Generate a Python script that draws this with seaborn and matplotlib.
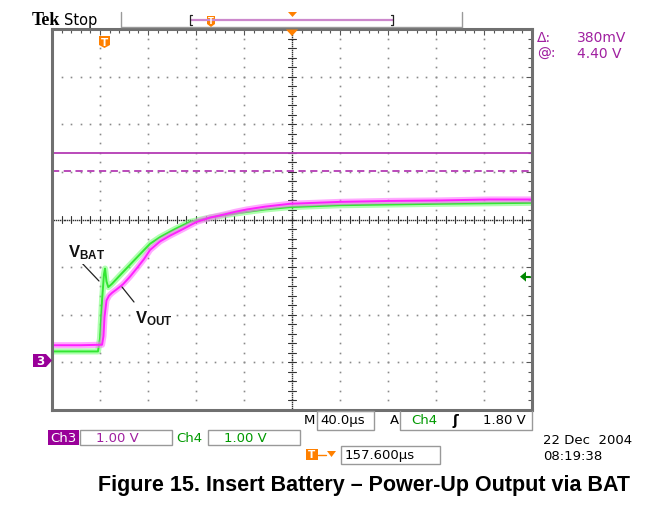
import numpy as np
import pandas as pd
import matplotlib
matplotlib.use("Agg")
import matplotlib.pyplot as plt
import seaborn as sns
from matplotlib.patches import Polygon, Rectangle

# ---------------- data (time in µs from left edge, volts from ground) -------------
t_vout = [0, 23.3, 41.7, 42.9, 43.75, 45.4, 47.5, 50, 54.2, 59.2, 65, 70.8, 76.7,
          81.7, 90, 98.3, 109.2, 120.6, 131.7, 142.5, 152.5, 162.2, 177.5, 198.3,
          240, 281.7, 323.3, 365, 399]
v_vout = [0.36, 0.36, 0.37, 0.55, 0.95, 1.30, 1.40, 1.46, 1.54, 1.64, 1.80, 1.98, 2.17,
          2.36, 2.54, 2.66, 2.80, 2.95, 3.04, 3.10, 3.16, 3.21, 3.27, 3.33,
          3.37, 3.39, 3.40, 3.42, 3.42]
t_vbat = [0, 20, 38.3, 40, 41.7, 43.3, 44.2, 45.4, 46.9, 50, 56.7, 65, 73.3, 81.7,
          90, 102.5, 115, 131.7, 156.7, 177.5, 198.3, 240, 323.3, 399]
v_vbat = [0.23, 0.23, 0.23, 0.5, 1.3, 1.85, 1.97, 1.70, 1.58, 1.65, 1.83, 2.05, 2.27, 2.49,
          2.63, 2.80, 2.95, 3.04, 3.14, 3.21, 3.26, 3.30, 3.33, 3.35]
cursor_solid = 4.40
cursor_dash = 4.02
trig_level = 1.80
time_per_div = 40.0
volt_per_div = 1.0

df_out = pd.DataFrame({"t": t_vout, "v": v_vout})
df_bat = pd.DataFrame({"t": t_vbat, "v": v_vbat})

sns.set_style("white")
plt.rcParams["font.family"] = ["DejaVu Sans"]
plt.rcParams["text.color"] = "black"
plt.rcParams["mathtext.fontset"] = "custom"
plt.rcParams["mathtext.rm"] = "Liberation Sans"
plt.rcParams["mathtext.bf"] = "Liberation Sans:bold"

W, H = 671, 510
fig = plt.figure(figsize=(W / 100, H / 100), dpi=100)
fig.patch.set_facecolor("white")

L, R, T, B = 52, 532, 30, 411
ax = fig.add_axes([L / W, 1 - B / H, (R - L) / W, (B - T) / H])
xmin, xmax = 0, 10 * time_per_div
ymin, ymax = -1, 7
ax.set_xlim(xmin, xmax)
ax.set_ylim(ymin, ymax)
ax.set_xticks(np.arange(xmin, xmax + 1, time_per_div))
ax.set_yticks(np.arange(ymin, ymax + 0.01, volt_per_div))
ax.set_xticks(np.arange(xmin, xmax + 1, time_per_div / 5), minor=True)
ax.set_yticks(np.arange(ymin, ymax + 0.01, volt_per_div / 5), minor=True)
ax.tick_params(which="both", direction="in", top=True, right=True,
               labelbottom=False, labelleft=False, color="#555555", width=0.8)
ax.tick_params(which="major", length=4)
ax.tick_params(which="minor", length=3)
for s in ax.spines.values():
    s.set_color("#707070")
    s.set_linewidth(2.2)

gc = "#8a8a8a"
# dotted grid
for gx in np.arange(time_per_div, xmax, time_per_div):
    if gx == 200:
        continue
    yy = np.arange(ymin, ymax + 0.01, volt_per_div / 5)
    ax.plot(np.full_like(yy, gx), yy, ls="none", marker="s", ms=1.2, color=gc, mew=0)
for gy in np.arange(ymin + 1, ymax, volt_per_div):
    if gy == 3:
        continue
    xx = np.arange(xmin, xmax + 0.1, time_per_div / 5)
    ax.plot(xx, np.full_like(xx, gy), ls="none", marker="s", ms=1.2, color=gc, mew=0)
# centre crosshair
yy = np.arange(ymin, ymax + 0.001, 0.04)
ax.plot(np.full_like(yy, 200), yy, ls="none", marker="s", ms=1.0, color="#333333", mew=0)
xx = np.arange(xmin, xmax + 0.01, 1.6)
ax.plot(xx, np.full_like(xx, 3), ls="none", marker="s", ms=1.0, color="#333333", mew=0)
for vy in np.arange(ymin, ymax + 0.01, 0.2):
    ax.plot([196.7, 203.3], [vy, vy], color="#333333", lw=0.8)
for tx in np.arange(xmin, xmax + 0.1, 8):
    ax.plot([tx, tx], [2.92, 3.08], color="#333333", lw=0.8)

# cursors
ax.axhline(cursor_solid, color="#B43CB4", lw=1.3)
ax.axhline(cursor_dash, color="#B43CB4", lw=1.3, ls=(0, (4, 2.5)))

# traces
kw = dict(ax=ax, sort=False, estimator=None, solid_joinstyle="round", solid_capstyle="round")
sns.lineplot(data=df_bat, x="t", y="v", color="#70FF70", lw=4.4, alpha=0.55, **kw)
sns.lineplot(data=df_bat, x="t", y="v", color="#33E633", lw=1.4, **kw)
sns.lineplot(data=df_out, x="t", y="v", color="#FF70FF", lw=4.4, alpha=0.6, **kw)
sns.lineplot(data=df_out, x="t", y="v", color="#FF20FF", lw=1.4, **kw)
ax.set_xlabel("")
ax.set_ylabel("")

# annotation labels
def px2data(x, y):
    return (x - L) / (R - L) * (xmax - xmin) + xmin, ymax - (y - T) / (B - T) * (ymax - ymin)

ax.plot(*zip(px2data(80, 262), px2data(99, 282)), color="#222222", lw=0.9)
ax.plot(*zip(px2data(122, 288), px2data(134, 303)), color="#222222", lw=0.9)
bx, by = px2data(68, 253)
ax.text(bx, by, r"$\mathbf{V_{BAT}}$", fontsize=12, ha="left", va="center", color="#111111",
        bbox=dict(boxstyle="square,pad=0.15", fc="white", ec="none"))
ox, oy = px2data(135, 319)
ax.text(ox, oy, r"$\mathbf{V_{OUT}}$", fontsize=12, ha="left", va="center", color="#111111",
        bbox=dict(boxstyle="square,pad=0.15", fc="white", ec="none"))

# ---------------- scope chrome (figure pixel coords) -------------
def fx(x):
    return x / W

def fy(y):
    return 1 - y / H

def ftext(x, y, s, **kw):
    kw.setdefault("fontsize", 9)
    kw.setdefault("va", "center")
    kw.setdefault("ha", "left")
    kw.setdefault("color", "black")
    fig.text(fx(x), fy(y), s, **kw)

def fline(xs, ys, **kw):
    fig.add_artist(plt.Line2D([fx(v) for v in xs], [fy(v) for v in ys], **kw))

def fpoly(pts, **kw):
    fig.add_artist(Polygon([(fx(a), fy(b)) for a, b in pts], closed=True,
                           transform=fig.transFigure, **kw))

def fbox(x0, y0, x1, y1, **kw):
    fig.add_artist(Rectangle((fx(x0), fy(y1)), fx(x1) - fx(x0), fy(y0) - fy(y1),
                             transform=fig.transFigure, **kw))

orange = "#FF8000"
purple = "#A020A0"
green = "#009900"

# top bar
ftext(32, 20.5, "Tek", fontsize=13, fontweight="bold", family="Liberation Serif")
ftext(64, 20, "Stop", fontsize=10.5)
fline([120.5, 120.5], [13, 28], color="#9a9a9a", lw=1)
fline([120.5, 462], [28, 28], color="#9a9a9a", lw=1)
fline([462, 462], [13, 28], color="#9a9a9a", lw=1)
fline([191, 393], [21, 21], color="#CC88CC", lw=1.6)
fline([192, 190, 190, 192], [16, 16, 26, 26], color="#222222", lw=0.9)
fline([391, 393, 393, 391], [16, 16, 26, 26], color="#222222", lw=0.9)
fpoly([(207, 17), (215, 17), (215, 25), (211, 28), (207, 25)], fc=orange, ec="none")
ftext(211, 21.5, "T", fontsize=6, color="white", ha="center", fontweight="bold")
fpoly([(288, 13), (297, 13), (292.5, 18)], fc=orange, ec="none")

# in-plot markers
fpoly([(286, 30.5), (298, 30.5), (292, 37)], fc=orange, ec="none")
fpoly([(99, 37), (110, 37), (110, 46), (104.5, 49), (99, 46)], fc=orange, ec="none")
ftext(104.5, 42.5, "T", fontsize=7.5, color="white", ha="center", fontweight="bold")
fpoly([(33, 355), (46, 355), (52, 361.5), (46, 368), (33, 368)], fc="#990099", ec="none")
ftext(40, 361.5, "3", fontsize=8.5, color="white", ha="center", fontweight="bold")
trig_y = T + (ymax - trig_level) / (ymax - ymin) * (B - T)
fpoly([(520, trig_y), (526, trig_y - 5), (526, trig_y + 5)], fc="#008800", ec="none")
fline([525, 530], [trig_y, trig_y], color="#008800", lw=1.5)

# cursor readout
ftext(537, 38, "Δ:", color=purple, fontsize=10)
ftext(577, 38, "380mV", color=purple, fontsize=10)
ftext(537, 54, "@:", color=purple, fontsize=10)
ftext(577, 54, "4.40 V", color=purple, fontsize=10)

# bottom readouts
ftext(304, 421, "M", fontsize=9.5)
fbox(317, 412, 374, 431, fc="none", ec="#999999", lw=1)
ftext(320, 421, "40.0µs", fontsize=9.5)
ftext(390, 421, "A", fontsize=9.5)
fline([400, 400, 532, 532], [412, 431, 431, 412], color="#999999", lw=1)
ftext(411, 421, "Ch4", fontsize=9.5, color=green)
ftext(452, 421, "ʃ", fontsize=10, color="black", fontweight="bold")
ftext(483, 421, "1.80 V", fontsize=9.5)

fbox(48, 431, 79, 446, fc="#990099", ec="none")
ftext(63.5, 438.5, "Ch3", fontsize=9.5, color="white", ha="center")
fbox(80, 431, 172, 446, fc="none", ec="#999999", lw=1)
ftext(96, 438.5, "1.00 V", fontsize=9.5, color=purple)
ftext(176, 438.5, "Ch4", fontsize=9.5, color=green)
fbox(208, 431, 300, 446, fc="none", ec="#999999", lw=1)
ftext(224, 438.5, "1.00 V", fontsize=9.5, color=green)

fpoly([(306, 450), (318, 450), (318, 461), (306, 461)], fc=orange, ec="none")
ftext(312, 455.5, "T", fontsize=7.5, color="white", ha="center", fontweight="bold")
fline([318, 326], [455.5, 455.5], color=orange, lw=1)
fpoly([(327, 452), (336, 452), (331.5, 458)], fc=orange, ec="none")
fbox(341, 447, 440, 465, fc="none", ec="#999999", lw=1)
ftext(345, 456, "157.600µs", fontsize=9.5)

ftext(543, 440, "22 Dec  2004", fontsize=9.5)
ftext(543, 456, "08:19:38", fontsize=9.5)

ftext(364.5, 486, "Figure 15. Insert Battery – Power-Up Output via BAT",
      fontsize=15.5, fontweight="bold", family="Liberation Sans", ha="center")

fig.savefig("out.png", dpi=100, facecolor="white")
